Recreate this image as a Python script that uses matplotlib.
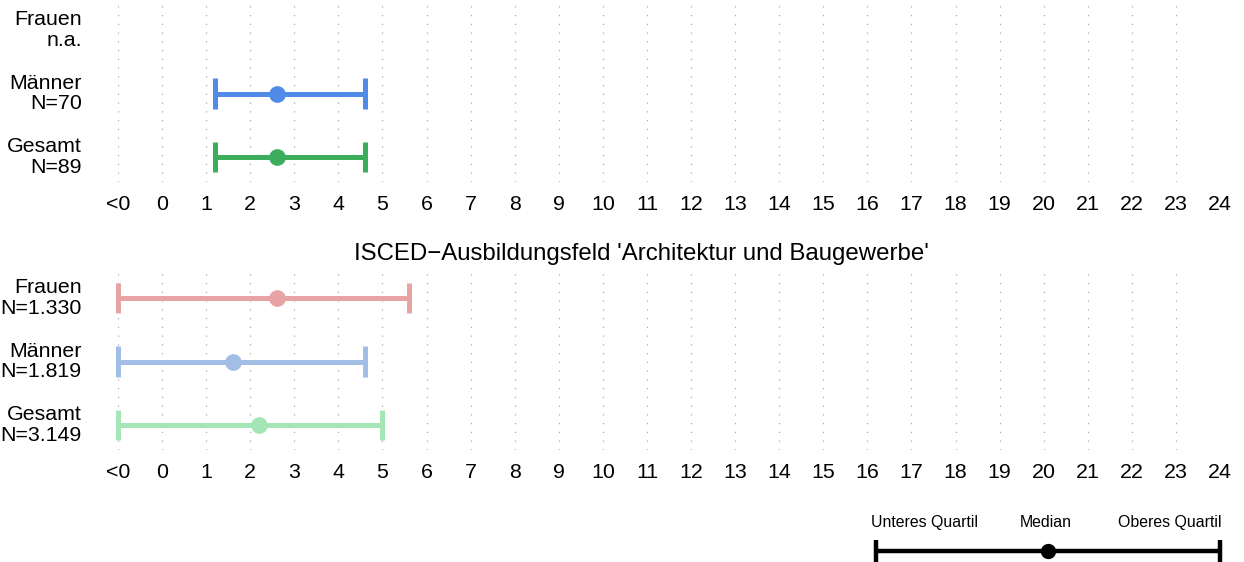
import matplotlib
matplotlib.use("Agg")
import matplotlib.pyplot as plt

plt.rcParams['font.family'] = ['Liberation Sans', 'DejaVu Sans']

# x positions: -1 is the "<0" column
tick_vals = list(range(-1, 25))
tick_labels = ["<0"] + [str(i) for i in range(0, 25)]

row_labels = ["Frauen", "Männer", "Gesamt"]

# top panel (no title)
top_n = ["n.a.", "N=70", "N=89"]
top_lower = [None, 1.2, 1.2]
top_median = [None, 2.6, 2.6]
top_upper = [None, 4.6, 4.6]
top_colors = ["#E8A4A4", "#508BE8", "#3BAD5C"]

# bottom panel
bot_title = "ISCED\u2212Ausbildungsfeld 'Architektur und Baugewerbe'"
bot_n = ["N=1.330", "N=1.819", "N=3.149"]
bot_lower = [-1, -1, -1]
bot_median = [2.6, 1.6, 2.2]
bot_upper = [5.6, 4.6, 5.0]
bot_colors = ["#E8A4A4", "#A2BDE6", "#A4E6B6"]

# legend key
key_vals = [16.2, 20.1, 24.0]
key_labels = ["Unteres Quartil", "Median", "Oberes Quartil"]

W, H = 1244, 562
fig = plt.figure(figsize=(W / 100, H / 100), dpi=100)


def px_axes(x0, y0, x1, y1):
    return fig.add_axes([x0 / W, 1 - y1 / H, (x1 - x0) / W, (y1 - y0) / H])


def draw_panel(ax, n_labels, lower, median, upper, colors):
    ax.set_xlim(-1, 24)
    ax.set_ylim(2.39, -0.39)
    for v in tick_vals:
        ax.axvline(v, color="#a8a8a8", lw=0.9, ls=(0, (1, 6)), zorder=0)
    for i in range(3):
        ax.text(-1.82, i, row_labels[i] + "\n" + n_labels[i],
                ha="right", va="center", fontsize=15.4, linespacing=1.1,
                clip_on=False)
        if lower[i] is None:
            continue
        c = colors[i]
        ax.plot([lower[i], upper[i]], [i, i], color=c, lw=3.6,
                solid_capstyle="butt", clip_on=False, zorder=2)
        for e in (lower[i], upper[i]):
            ax.plot([e, e], [i - 0.24, i + 0.24], color=c, lw=3.6,
                    solid_capstyle="butt", clip_on=False, zorder=2)
        ax.plot(median[i], i, "o", color=c, ms=11, clip_on=False, zorder=3)
    ax.set_xticks(tick_vals)
    ax.set_xticklabels(tick_labels, fontsize=15.4)
    ax.tick_params(axis="x", length=0, pad=9)
    ax.set_yticks([])
    for s in ax.spines.values():
        s.set_visible(False)


ax1 = px_axes(118, 5, 1220, 182)
draw_panel(ax1, top_n, top_lower, top_median, top_upper, top_colors)

ax2 = px_axes(118, 273, 1220, 450)
draw_panel(ax2, bot_n, bot_lower, bot_median, bot_upper, bot_colors)
fig.text(641 / W, 1 - 254 / H, bot_title, ha="center", va="center", fontsize=17.3)

# legend key
ax3 = px_axes(118, 500, 1220, 562)
ax3.set_xlim(-1, 24)
ax3.set_ylim(1, 0)
ax3.axis("off")
ky = 0.83
ax3.plot([key_vals[0], key_vals[2]], [ky, ky], color="black", lw=3.2,
         solid_capstyle="butt", clip_on=False)
for e in (key_vals[0], key_vals[2]):
    ax3.plot([e, e], [ky - 0.18, ky + 0.25], color="black", lw=3.2,
             solid_capstyle="butt", clip_on=False)
ax3.plot(key_vals[1], ky, "o", color="black", ms=10, clip_on=False)
label_x = [17.3, 20.05, 22.85]
for lx, lab in zip(label_x, key_labels):
    ax3.text(lx, 0.37, lab, ha="center", va="center", fontsize=11.4)

fig.savefig("out.png", dpi=100)
